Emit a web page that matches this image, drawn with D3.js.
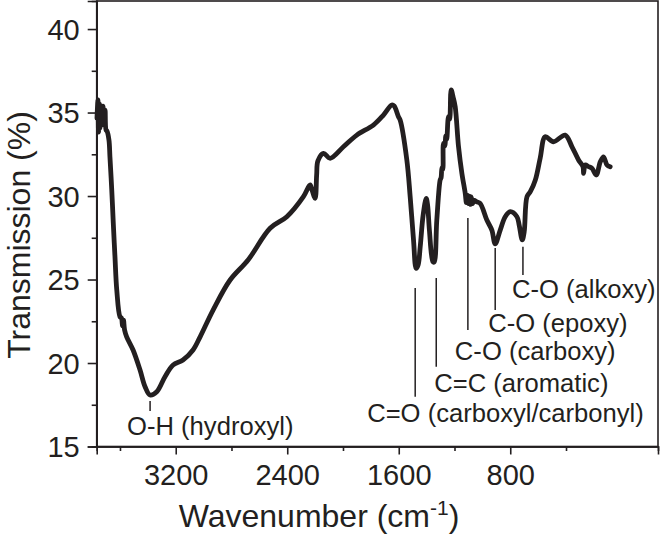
<!DOCTYPE html>
<html>
<head>
<meta charset="utf-8">
<script src="https://cdn.jsdelivr.net/npm/d3@7"></script>
<style>
  html, body { margin: 0; padding: 0; background: #fff; }
  svg { display: block; font-family: "Liberation Sans", Arial, sans-serif; }
</style>
</head>
<body>
<svg id="chart" width="662" height="537"></svg>
<script>
// ---- data ----
const wavenumber = [3765,3758,3754,3747,3743,3736,3729,3722,3715,3707,3700,3693,3679,3672,3659,3648,3636,3623,3600,3589,3582,3575,3567,3552,3506,3456,3420,3384,3336,3277,3219,3148,3076,3025,2932,2810,2681,2523,2403,2284,2236,2222,2200,2189,2180,2140,2092,1997,1901,1782,1710,1650,1633,1602,1590,1542,1518,1494,1475,1461,1446,1425,1403,1393,1380,1355,1346,1327,1303,1296,1290,1284,1279,1270,1262,1256,1243,1235,1224,1210,1195,1171,1147,1123,1115,1110,1100,1095,1085,1080,1070,1064,1040,1016,968,932,908,872,836,800,752,736,714,700,680,656,620,585,549,490,406,357,310,278,274,262,238,214,183,154,131,106,83];
const transmission = [34.67,35.75,33.83,35.51,34.07,35.27,34.25,35.39,34.55,35.15,33.95,33.89,33.35,32.35,30.36,28.38,26.37,24.37,22.77,22.69,22.22,22.57,21.98,21.57,20.78,19.58,18.58,18.08,18.28,19.18,19.88,20.18,20.78,21.57,23.17,24.97,26.17,28.07,28.76,29.96,30.66,30.36,29.86,31.26,32.10,32.56,32.26,32.95,33.65,34.25,34.85,35.45,35.39,34.75,34.55,32.16,29.96,27.37,25.67,25.87,26.96,28.86,29.86,29.46,27.96,26.07,26.05,28.56,30.96,31.10,31.70,31.60,33.16,33.00,33.60,33.40,34.75,34.60,36.35,35.93,35.35,32.95,31.36,30.16,29.60,30.05,29.55,30.00,29.50,29.95,29.55,29.76,29.65,29.56,28.56,27.96,27.13,27.96,28.76,29.06,28.76,28.26,27.37,27.85,29.96,30.26,30.96,32.28,33.55,33.25,33.65,32.95,32.16,31.76,31.36,31.86,31.76,31.66,31.26,32.05,32.35,31.86,31.75];

const xTicks = [3200, 2400, 1600, 800];
const xMinorTicks = [3600, 2800, 2000, 1200, 400];
const yTicks = [15, 20, 25, 30, 35, 40];
const yMinorTicks = [17.5, 22.5, 27.5, 32.5, 37.5];

// annotations: band label, wavenumber of marker, marker top/bottom (transmission), label baseline (transmission)
const bandLabels = ["O-H (hydroxyl)", "C=O (carboxyl/carbonyl)", "C=C (aromatic)", "C-O (carboxy)", "C-O (epoxy)", "C-O (alkoxy)"];
const bandWavenumber = [3384, 1482, 1331, 1104, 908, 709];
const bandTop = [17.72, 24.49, 25.09, 28.68, 26.89, 26.96];
const bandBottom = [17.13, 17.98, 19.78, 21.98, 23.17, 25.27];
const bandTextY = [15.69, 16.49, 18.28, 20.18, 21.87, 23.87];
const bandTextShift = [-23, -48, -2, -13, -7, -11];

// ---- layout ----
const W = 662, H = 537;
const margin = { top: 1, right: 4, bottom: 90.5, left: 96.7 };
const iw = W - margin.left - margin.right;
const ih = H - margin.top - margin.bottom;
const ink = "#231f20";

const svg = d3.select("#chart");
const g = svg.append("g").attr("transform", `translate(${margin.left},${margin.top})`);

const x = d3.scaleLinear().domain([3767, -260]).range([0, iw]);
const y = d3.scaleLinear().domain([15, 41.68]).range([ih, 0]);

// frame
g.append("rect").attr("x", 0).attr("y", 0).attr("width", iw).attr("height", ih)
  .attr("fill", "none").attr("stroke", ink).attr("stroke-width", 1.6);

// axes
const xAxis = g.append("g").attr("transform", `translate(0,${ih})`)
  .call(d3.axisBottom(x).tickValues(xTicks).tickSize(8).tickPadding(10).tickFormat(d3.format("d")));
const xMinor = g.append("g").attr("transform", `translate(0,${ih})`)
  .call(d3.axisBottom(x).tickValues(xMinorTicks).tickSize(4.5).tickFormat(""));
const yAxis = g.append("g")
  .call(d3.axisLeft(y).tickValues(yTicks).tickSize(9).tickPadding(8).tickFormat(d3.format("d")));
const yMinor = g.append("g")
  .call(d3.axisLeft(y).tickValues(yMinorTicks).tickSize(5).tickFormat(""));

[xAxis, xMinor, yAxis, yMinor].forEach(a => {
  a.select(".domain").attr("stroke", ink).attr("stroke-width", 1.6);
  a.selectAll(".tick line").attr("stroke", ink).attr("stroke-width", 1.6);
  a.selectAll("text").attr("fill", ink).attr("font-size", 29)
    .attr("font-family", "Liberation Sans, Arial, sans-serif");
});
yAxis.selectAll("text").attr("dy", "0.36em");

// axis titles
const xt = svg.append("text")
  .attr("x", 319).attr("y", 527)
  .attr("text-anchor", "middle").attr("font-size", 32).attr("fill", ink);
xt.append("tspan").text("Wavenumber (cm");
xt.append("tspan").attr("dy", -12).attr("font-size", 21).text("-1");
xt.append("tspan").attr("dy", 12).attr("font-size", 32).text(")");

svg.append("text")
  .attr("transform", `translate(30,235) rotate(-90)`)
  .attr("text-anchor", "middle").attr("font-size", 32).attr("fill", ink)
  .text("Transmission (%)");

// spectrum
const pts = wavenumber.map((w, i) => [w, transmission[i]]);
const line = d3.line().x(d => x(d[0])).y(d => y(d[1])).curve(d3.curveCatmullRom.alpha(0.5));
g.append("path").datum(pts).attr("d", line)
  .attr("fill", "none").attr("stroke", ink).attr("stroke-width", 4.8)
  .attr("stroke-linejoin", "round").attr("stroke-linecap", "round");

// band annotations
bandLabels.forEach((lab, i) => {
  g.append("line")
    .attr("x1", x(bandWavenumber[i])).attr("x2", x(bandWavenumber[i]))
    .attr("y1", y(bandTop[i])).attr("y2", y(bandBottom[i]))
    .attr("stroke", ink).attr("stroke-width", 1.5);
  g.append("text")
    .attr("x", x(bandWavenumber[i]) + bandTextShift[i])
    .attr("y", y(bandTextY[i]))
    .attr("font-size", 25.6).attr("fill", ink)
    .text(lab);
});
</script>
</body>
</html>
